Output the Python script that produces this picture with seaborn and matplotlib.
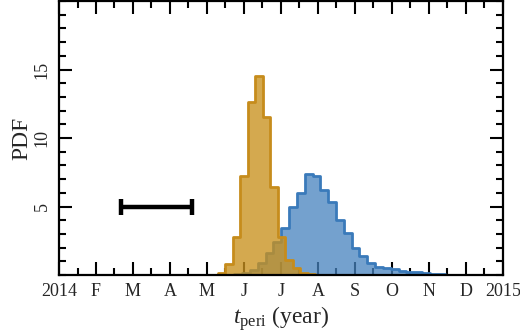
import numpy as np
import pandas as pd
import matplotlib
matplotlib.use("Agg")
import matplotlib.pyplot as plt
import seaborn as sns
from matplotlib.ticker import FixedLocator, MultipleLocator

# ---- data ----
month_labels = ["2014", "F", "M", "A", "M", "J", "J", "A", "S", "O", "N", "D", "2015"]
month_ticks = [2014 + i / 12 for i in range(13)]

gold_start = 2014.3581
gold_width = 0.01689
gold_heights = [0.17, 0.8, 2.8, 7.2, 12.65, 14.5, 11.55, 6.45, 2.8, 1.1, 0.5, 0.15, 0.05]

blue_start = 2014.3950
blue_width = 0.01762
blue_heights = [0.05, 0.15, 0.36, 0.85, 1.6, 2.4, 3.4, 5.0, 6.0, 7.4, 7.2, 6.2, 5.3,
                4.0, 3.1, 2.0, 1.4, 0.9, 0.6, 0.5, 0.45, 0.3, 0.2, 0.2, 0.15, 0.08, 0.05]

err_center = 2014.2196
err_half = 0.080
err_y = 5.0

# ---- style ----
sns.set_style("ticks")
plt.rcParams["font.family"] = ["Liberation Serif", "DejaVu Serif"]
plt.rcParams["mathtext.fontset"] = "custom"
plt.rcParams["mathtext.rm"] = "Liberation Serif"
plt.rcParams["mathtext.it"] = "Liberation Serif:italic"

fig = plt.figure(figsize=(5.2, 3.35), dpi=100)
ax = fig.add_axes([0.1135, 0.179, 0.8535, 0.818])

gold_edges = [float(v) for v in gold_start + gold_width * np.arange(len(gold_heights) + 1)]
blue_edges = [float(v) for v in blue_start + blue_width * np.arange(len(blue_heights) + 1)]
gold_df = pd.DataFrame({
    "t": [0.5 * (a + b) for a, b in zip(gold_edges[:-1], gold_edges[1:])],
    "w": gold_heights,
})
blue_df = pd.DataFrame({
    "t": [0.5 * (a + b) for a, b in zip(blue_edges[:-1], blue_edges[1:])],
    "w": blue_heights,
})

blue_face = (70 / 255, 130 / 255, 190 / 255, 0.75)
blue_edge = (58 / 255, 122 / 255, 186 / 255, 1.0)
gold_face = (200 / 255, 145 / 255, 30 / 255, 0.78)
gold_edge = (198 / 255, 140 / 255, 28 / 255, 1.0)

sns.histplot(data=blue_df, x="t", weights="w", bins=blue_edges, element="step",
             fill=True, facecolor=blue_face, edgecolor=blue_edge, linewidth=2.0, ax=ax)
sns.histplot(data=gold_df, x="t", weights="w", bins=gold_edges, element="step",
             fill=True, facecolor=gold_face, edgecolor=gold_edge, linewidth=2.0, ax=ax)

ax.errorbar([err_center], [err_y], xerr=[err_half], color="black", lw=3.2,
            capsize=5.5, capthick=3.2)

ax.set_xlim(2014, 2015)
ax.set_ylim(0, 20)
ax.xaxis.set_major_locator(FixedLocator(month_ticks))
ax.set_xticklabels(month_labels)
ax.xaxis.set_minor_locator(FixedLocator([2014 + (i + 0.5) / 12 for i in range(12)]))
ax.yaxis.set_major_locator(FixedLocator([5, 10, 15]))
ax.yaxis.set_minor_locator(MultipleLocator(1))

ax.tick_params(which="both", direction="in", top=True, right=True, width=1.5,
               labelsize=13, color="black")
ax.tick_params(which="major", length=9.5)
ax.tick_params(which="minor", length=5)
ax.tick_params(axis="x", pad=6)
ax.tick_params(axis="y", pad=6)
for lab in ax.get_yticklabels():
    lab.set_rotation(90)
    lab.set_va("center")
for s in ax.spines.values():
    s.set_linewidth(1.6)
    s.set_color("black")

ax.set_xlabel(r"$t_{\rm peri}$ (year)", fontsize=17, labelpad=3)
ax.set_ylabel("PDF", fontsize=17)
ax.yaxis.set_label_coords(-0.06, 0.5)

fig.savefig("out.png", dpi=100)
